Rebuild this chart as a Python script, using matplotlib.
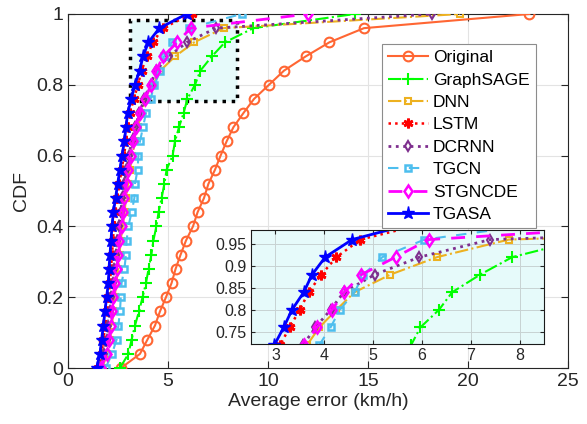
import numpy as np
import matplotlib
matplotlib.use("Agg")
import matplotlib.pyplot as plt
from matplotlib.patches import Rectangle

plt.rcParams["font.family"] = ["Liberation Sans", "DejaVu Sans"]

# CDF levels (y) shared by all methods
cdf = [0.00, 0.04, 0.08, 0.12, 0.16, 0.20, 0.24, 0.28, 0.32, 0.36, 0.40, 0.44, 0.48,
       0.52, 0.56, 0.60, 0.64, 0.68, 0.72, 0.76, 0.80, 0.84, 0.88, 0.92, 0.96, 1.00]

# average error (km/h) at each CDF level
original = [2.65, 3.6, 3.97, 4.35, 4.6, 4.9, 5.18, 5.38, 5.63, 5.9, 6.25, 6.48, 6.8,
            7.02, 7.35, 7.63, 7.93, 8.27, 8.77, 9.3, 10.05, 10.8, 11.88, 13.07, 14.8, 23.07]
graphsage = [2.6, 3.02, 3.18, 3.35, 3.55, 3.73, 3.9, 4.03, 4.17, 4.27, 4.42, 4.53, 4.68,
             4.82, 4.93, 5.23, 5.35, 5.55, 5.78, 5.97, 6.35, 6.62, 7.19, 7.85, 9.27, 14.35]
dnn = [1.7, 1.97, 2.1, 2.2, 2.27, 2.33, 2.42, 2.5, 2.58, 2.63, 2.74, 2.83, 2.9,
       3.0, 3.1, 3.22, 3.35, 3.5, 3.65, 3.9, 4.25, 4.62, 5.35, 6.31, 7.78, 19.6]
lstm = [1.5, 1.68, 1.77, 1.86, 1.94, 2.02, 2.1, 2.15, 2.2, 2.25, 2.3, 2.37, 2.47,
        2.57, 2.68, 2.8, 2.9, 3.0, 3.1, 3.29, 3.5, 3.68, 3.94, 4.25, 4.74, 6.18]
dcrnn = [1.58, 1.82, 1.93, 2.02, 2.1, 2.17, 2.25, 2.32, 2.4, 2.46, 2.55, 2.64, 2.72,
         2.82, 2.92, 3.05, 3.18, 3.36, 3.57, 3.82, 4.13, 4.4, 5.03, 5.95, 7.4, 18.2]
tgcn = [1.88, 2.2, 2.43, 2.52, 2.6, 2.64, 2.68, 2.82, 2.9, 2.93, 3.02, 3.18, 3.32,
        3.35, 3.48, 3.52, 3.6, 3.75, 3.9, 4.13, 4.32, 4.62, 4.8, 5.19, 6.05, 8.68]
stgncde = [1.65, 1.93, 2.05, 2.15, 2.22, 2.27, 2.35, 2.43, 2.52, 2.56, 2.68, 2.77, 2.82,
           2.93, 3.02, 3.15, 3.27, 3.42, 3.59, 3.85, 4.16, 4.41, 4.76, 5.46, 6.14, 12.0]
tgasa = [1.43, 1.6, 1.68, 1.77, 1.85, 1.93, 2.02, 2.05, 2.1, 2.15, 2.2, 2.27, 2.38,
         2.48, 2.6, 2.7, 2.82, 2.9, 2.98, 3.17, 3.34, 3.58, 3.75, 4.02, 4.57, 5.93]

series = [
    ("Original", original, dict(color="#FF6633", ls="-", lw=1.5, marker="o", ms=7, mfc="none", mew=1.5)),
    ("GraphSAGE", graphsage, dict(color="#00FF00", ls="-.", lw=1.5, marker="+", ms=8, mew=1.5)),
    ("DNN", dnn, dict(color="#EDB120", ls="-.", lw=1.5, marker="s", ms=4.5, mfc="none", mew=1.5)),
    ("LSTM", lstm, dict(color="#FF0000", ls=":", lw=1.8, marker=(6, 2, 0), ms=7, mew=2)),
    ("DCRNN", dcrnn, dict(color="#7E2F8E", ls=":", lw=2, marker="d", ms=5.5, mfc="none", mew=1.5)),
    ("TGCN", tgcn, dict(color="#4DBEEE", ls=(0, (5, 5)), lw=1.5, marker="s", ms=4.5, mfc="none", mew=1.8)),
    ("STGNCDE", stgncde, dict(color="#FF00FF", ls=(0, (5, 4)), lw=2, marker="d", ms=6, mfc="none", mew=1.8)),
    ("TGASA", tgasa, dict(color="#0000FF", ls="-", lw=2, marker="*", ms=9.5)),
]

fig = plt.figure(figsize=(5.87, 4.24), dpi=100)
ax = fig.add_axes([0.1158, 0.132, 0.8518, 0.835])

tick_color = "#262626"
for name, vals, style in series:
    ax.plot(vals, cdf, label=name, zorder=3, **style)

# highlighted zoom region
ax.add_patch(Rectangle((3.1, 0.755), 5.35, 0.228, facecolor="#E6FAFA",
                       edgecolor="black", ls=":", lw=2.5, zorder=1))

ax.set_xlim(0, 25)
ax.set_ylim(0, 1)
ax.set_xticks([0, 5, 10, 15, 20, 25])
ax.set_yticks([0, 0.2, 0.4, 0.6, 0.8, 1])
ax.set_yticklabels(["0", "0.2", "0.4", "0.6", "0.8", "1"])
ax.grid(True, color="#E3E3E3", lw=0.8)
ax.set_axisbelow(True)
ax.tick_params(direction="in", top=True, right=True, labelsize=14, colors=tick_color, length=5)
for sp in ax.spines.values():
    sp.set_color(tick_color)
ax.set_xlabel("Average error (km/h)", fontsize=14, color=tick_color, labelpad=2)
ax.set_ylabel("CDF", fontsize=14, color=tick_color, labelpad=4)

leg = ax.legend(loc="upper right", bbox_to_anchor=(0.953, 0.94), fontsize=12.5,
                handlelength=2.3, labelspacing=0.42, borderpad=0.35, handletextpad=0.3,
                fancybox=False, framealpha=1, edgecolor="#8C8C8C")
leg.get_frame().set_linewidth(0.8)

# inset
axin = fig.add_axes([0.4276, 0.1887, 0.4991, 0.269])
axin.set_facecolor("#E6FAFA")
for name, vals, style in series:
    axin.plot(vals, cdf, **style)
axin.set_xlim(2.5, 8.5)
axin.set_ylim(0.722, 0.982)
axin.set_xticks([3, 4, 5, 6, 7, 8])
axin.set_yticks([0.75, 0.8, 0.85, 0.9, 0.95])
axin.set_yticklabels(["0.75", "0.8", "0.85", "0.9", "0.95"])
axin.grid(True, color="#C8D2D2", lw=0.7)
axin.tick_params(direction="in", top=True, right=True, labelsize=11.5, colors=tick_color, length=3, pad=3)
for sp in axin.spines.values():
    sp.set_color("#1A1A1A")

fig.savefig("out.png", dpi=100)
